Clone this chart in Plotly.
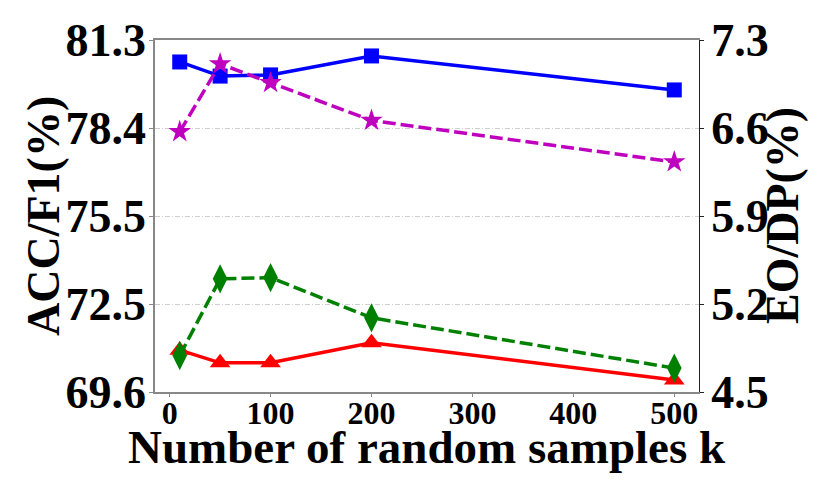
import plotly.graph_objects as go

k = [10, 50, 100, 200, 500]
acc = [80.57, 80.10, 80.14, 80.77, 79.64]
f1 = [70.99, 70.57, 70.57, 71.24, 70.00]
eo = [6.57, 7.11, 6.96, 6.66, 6.33]
dp = [4.79, 5.40, 5.41, 5.09, 4.69]

left_ticks = [69.6, 72.525, 75.45, 78.375, 81.3]
left_labels = ["69.6", "72.5", "75.5", "78.4", "81.3"]
right_ticks = [4.5, 5.2, 5.9, 6.6, 7.3]
right_labels = ["4.5", "5.2", "5.9", "6.6", "7.3"]
x_ticks = [0, 100, 200, 300, 400, 500]

FONT = "Liberation Serif"

fig = go.Figure()
fig.add_trace(go.Scatter(x=k, y=acc, mode="lines+markers", yaxis="y",
                         line=dict(color="#0000ff", width=3.5),
                         marker=dict(symbol="square", size=15, color="#0000ff")))
fig.add_trace(go.Scatter(x=k, y=f1, mode="lines+markers", yaxis="y",
                         line=dict(color="#ff0000", width=3.5),
                         marker=dict(symbol="triangle-up", size=18, color="#ff0000")))
fig.add_trace(go.Scatter(x=k, y=eo, mode="lines+markers", yaxis="y2",
                         line=dict(color="#bf00bf", width=3.5, dash="13px,5px"),
                         marker=dict(symbol="star", size=17, color="#bf00bf")))
fig.add_trace(go.Scatter(x=k, y=dp, mode="lines+markers", yaxis="y2",
                         line=dict(color="#008000", width=3.5, dash="13px,5px"),
                         marker=dict(symbol="diamond-tall", size=21, color="#008000")))

fig.update_layout(
    width=830, height=493,
    margin=dict(l=147, r=139, t=32, b=109),
    paper_bgcolor="white", plot_bgcolor="white",
    showlegend=False,
    font=dict(family=FONT, color="black"),
    xaxis=dict(range=[-14.5, 524.5], tickvals=x_ticks, automargin=False,
               tickfont=dict(size=32, family=FONT, weight="bold"),
               ticklabelstandoff=-11,
               showgrid=False, zeroline=False, showline=True, linecolor="#888888",
               linewidth=1.5, mirror=True, ticks="outside", ticklen=3,
               tickcolor="#888888"),
    yaxis=dict(range=[69.6, 81.3], tickvals=left_ticks, ticktext=left_labels,
               automargin=False, ticklabelstandoff=-6,
               tickfont=dict(size=46, family=FONT, weight="bold"),
               showgrid=True, gridcolor="#cfcfcf", griddash="5px,2px,1px,2px",
               gridwidth=1,
               zeroline=False, showline=True, linecolor="#888888", linewidth=1.5,
               ticks="outside", ticklen=4, tickcolor="#888888"),
    yaxis2=dict(range=[4.5, 7.3], tickvals=right_ticks, ticktext=right_labels,
                overlaying="y", side="right", automargin=False,
                ticklabelstandoff=-2,
                tickfont=dict(size=46, family=FONT, weight="bold"),
                showgrid=False, zeroline=False, showline=True, linecolor="#222222",
                linewidth=1.2, ticks="outside", ticklen=4, tickcolor="#222222"),
    annotations=[
        dict(text="Number of random samples k", xref="paper", yref="paper",
             x=0.5, y=-0.156, xanchor="center", yanchor="middle", showarrow=False,
             font=dict(size=47, family=FONT, weight="bold")),
        dict(text="ACC/F1(%)", xref="paper", yref="paper", textangle=-90,
             x=-0.206, y=0.5, xanchor="center", yanchor="middle", showarrow=False,
             font=dict(size=46, family=FONT, weight="bold")),
        dict(text="EO/DP(%)", xref="paper", yref="paper", textangle=-90,
             x=1.1526, y=0.5, xanchor="center", yanchor="middle", showarrow=False,
             font=dict(size=46, family=FONT, weight="bold")),
    ],
)

fig.write_html("out.html")
